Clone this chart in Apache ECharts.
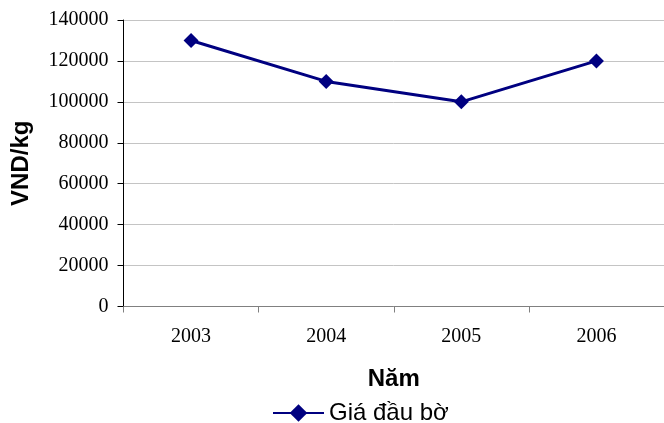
<!DOCTYPE html>
<html><head><meta charset="utf-8">
<script src="https://cdn.jsdelivr.net/npm/echarts@6/dist/echarts.min.js"></script>
<style>html,body{margin:0;padding:0;background:#fff}#c{width:664px;height:423px}</style>
</head><body><div id="c"></div>
<script>
const years = ['2003', '2004', '2005', '2006'];
const prices = [130000, 110000, 100000, 120000];
const seriesName = 'Giá đầu bờ';
const xTitle = 'Năm';
const yTitle = 'VND/kg';

const chart = echarts.init(document.getElementById('c'), null, {renderer: 'canvas'});
chart.setOption({
  animation: false,
  backgroundColor: '#fff',
  grid: {left: 123.5, top: 20, bottom: 116.5, right: -6, containLabel: false},
  legend: {
    top: 401, left: 272, padding: 0,
    data: [seriesName],
    itemWidth: 51, itemHeight: 22, itemGap: 5,
    textStyle: {fontFamily: 'Liberation Sans', fontSize: 24, color: '#000'}
  },
  xAxis: {
    type: 'category', data: years, boundaryGap: true,
    name: xTitle, nameLocation: 'middle', nameGap: 60.5,
    nameTextStyle: {fontFamily: 'Liberation Sans', fontWeight: 'bold', fontSize: 24, color: '#000'},
    axisLine: {lineStyle: {color: '#808080', width: 1}},
    axisTick: {show: true, length: 6, lineStyle: {color: '#808080'}},
    axisLabel: {margin: 20, fontFamily: 'Liberation Serif', fontSize: 20, color: '#000'},
    splitLine: {show: false}
  },
  yAxis: {
    type: 'value', min: 0, max: 140000, interval: 20000,
    name: yTitle, nameLocation: 'middle', nameGap: 90, nameRotate: 90,
    nameTextStyle: {fontFamily: 'Liberation Sans', fontWeight: 'bold', fontSize: 24, color: '#000'},
    axisLine: {show: true, lineStyle: {color: '#000', width: 1}},
    axisTick: {show: true, length: 6, lineStyle: {color: '#000'}},
    axisLabel: {margin: 15, fontFamily: 'Liberation Serif', fontSize: 20, color: '#000',
      formatter: function (v) { return String(v); }},
    splitLine: {show: true, lineStyle: {color: '#c4c4c4', width: 1}}
  },
  series: [{
    name: seriesName, type: 'line', data: prices,
    symbol: 'diamond', symbolSize: 15,
    lineStyle: {color: '#000080', width: 3},
    itemStyle: {color: '#000080'}
  }]
});
</script></body></html>
